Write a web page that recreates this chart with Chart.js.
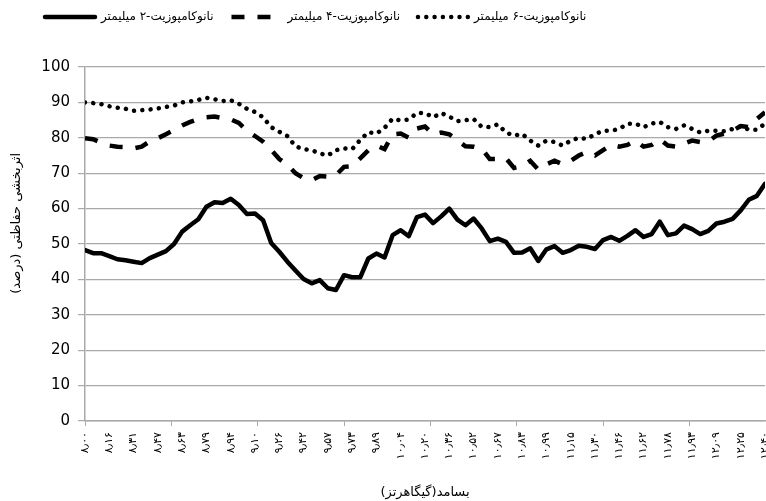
<!DOCTYPE html>
<html lang="fa">
<head>
<meta charset="utf-8">
<title>اثربخشی حفاظتی</title>
<script src="https://cdn.jsdelivr.net/npm/chart.js@4.4.1/dist/chart.umd.min.js"></script>
<style>
  html, body { margin: 0; padding: 0; background: #fff; }
  .wrap { position: relative; width: 766px; height: 501px; }
  canvas { direction: rtl; }
</style>
</head>
<body>
<div class="wrap"><canvas id="seChart"></canvas></div>
<script>
// tick labels of the category axis (GHz, Persian digits)
const freqLabels = ['۸٫۰۰', '۸٫۱۶', '۸٫۳۱', '۸٫۴۷', '۸٫۶۳', '۸٫۷۹', '۸٫۹۴', '۹٫۱۰', '۹٫۲۶', '۹٫۴۲',
  '۹٫۵۷', '۹٫۷۳', '۹٫۸۹', '۱۰٫۰۴', '۱۰٫۲۰', '۱۰٫۳۶', '۱۰٫۵۲', '۱۰٫۶۷', '۱۰٫۸۳', '۱۰٫۹۹',
  '۱۱٫۱۵', '۱۱٫۳۰', '۱۱٫۴۶', '۱۱٫۶۲', '۱۱٫۷۸', '۱۱٫۹۳', '۱۲٫۰۹', '۱۲٫۲۵', '۱۲٫۴۰'];

const seriesNames = ['نانوکامپوزیت-۲ میلیمتر', 'نانوکامپوزیت-۴ میلیمتر', 'نانوکامپوزیت-۶ میلیمتر'];

// values read every 3rd frequency point (0 .. 252)
const se2mm = [48.3, 47.4, 47.4, 46.6, 45.7, 45.4, 45.0, 44.6, 46.0, 47.0,
  48.0, 50.0, 53.5, 55.3, 57.0, 60.5, 61.8, 61.6, 62.8, 61.0,
  58.5, 58.6, 56.7, 50.3, 47.8, 45.0, 42.5, 40.1, 38.9, 39.8,
  37.5, 37.0, 41.2, 40.6, 40.6, 45.9, 47.3, 46.2, 52.5, 53.9,
  52.2, 57.6, 58.3, 55.9, 57.8, 60.0, 56.9, 55.3, 57.2, 54.4,
  50.8, 51.5, 50.6, 47.5, 47.6, 48.8, 45.2, 48.5, 49.4, 47.5,
  48.3, 49.5, 49.2, 48.6, 51.1, 52.0, 50.9, 52.3, 53.9, 52.0,
  52.8, 56.3, 52.5, 53.0, 55.2, 54.2, 52.8, 53.7, 55.8, 56.3,
  57.1, 59.5, 62.5, 63.6, 67.0];

const se4mm = [79.9, 79.6, 78.6, 77.8, 77.5, 77.4, 77.0, 77.5, 79.0, 79.9,
  81.0, 82.2, 83.5, 84.5, 85.3, 85.8, 86.0, 85.6, 85.2, 84.2,
  82.0, 80.5, 78.9, 76.6, 74.0, 72.4, 70.0, 68.6, 68.0, 69.2,
  69.0, 69.5, 71.8, 72.0, 74.2, 76.5, 77.8, 76.8, 81.0, 81.2,
  80.0, 82.6, 83.2, 81.0, 81.5, 81.0, 79.3, 77.6, 77.5, 77.0,
  74.0, 74.0, 74.2, 71.5, 72.0, 73.5, 71.0, 72.5, 73.5, 72.5,
  73.5, 75.0, 76.0, 75.0, 76.5, 78.0, 77.5, 78.0, 79.2, 77.5,
  78.0, 79.6, 77.8, 77.5, 78.4, 79.2, 78.8, 79.0, 80.6, 81.2,
  82.0, 83.3, 83.0, 85.3, 87.2];

const se6mm = [90.0, 89.8, 89.5, 88.9, 88.5, 88.2, 87.6, 87.8, 88.0, 88.3,
  88.7, 89.1, 90.0, 90.3, 90.7, 91.3, 90.9, 90.4, 90.6, 89.6,
  88.2, 87.3, 85.8, 83.0, 81.7, 80.5, 77.6, 76.8, 76.5, 75.6,
  75.0, 76.5, 77.0, 76.8, 79.4, 81.6, 81.2, 82.8, 85.4, 84.9,
  85.2, 87.0, 87.0, 85.8, 87.0, 86.0, 84.7, 85.0, 85.3, 83.1,
  83.0, 83.8, 81.5, 80.6, 81.1, 79.2, 77.8, 79.2, 78.8, 77.8,
  79.2, 80.0, 79.7, 81.0, 82.0, 82.0, 82.5, 84.0, 84.0, 83.0,
  84.0, 84.5, 83.0, 82.5, 83.5, 82.5, 81.5, 82.0, 82.0, 81.8,
  82.5, 83.3, 82.3, 82.3, 84.0];

// trailing no-break spaces push the rotated title a bit up, as in the original
const yTitle = 'اثربخشی حفاظتی (درصد)' + '\u00A0'.repeat(10);
const xTitle = 'بسامد(گیگاهرتز)';

const gridGray = '#a9a9a9';
const persianFont = 'DejaVu Sans';

// every 9th point gets a label, every 32nd point a tick mark
const tickValues = [];
for (let v = 0; v <= 252; v++) {
  if (v % 9 === 0 || v % 32 === 0) tickValues.push(v);
}

const toPoints = arr => arr.map((y, i) => ({ x: i * 3, y }));

// move the legend to the top left corner, like the original
const legendPlace = {
  id: 'legendPlace',
  afterLayout(chart) {
    chart.legend.left = 27;
    chart.legend.top = -7;
  }
};

const ctx = document.getElementById('seChart').getContext('2d');
new Chart(ctx, {
  type: 'line',
  data: {
    datasets: [
      { label: seriesNames[0], data: toPoints(se2mm), borderColor: '#000', borderWidth: 4.5,
        borderJoinStyle: 'round', borderCapStyle: 'round' },
      { label: seriesNames[1], data: toPoints(se4mm), borderColor: '#000', borderWidth: 4.5,
        borderDash: [13, 13], borderCapStyle: 'butt' },
      { label: seriesNames[2], data: toPoints(se6mm), borderColor: '#000', borderWidth: 4.5,
        borderDash: [0.01, 8.3], borderCapStyle: 'round' }
    ]
  },
  options: {
    responsive: true,
    maintainAspectRatio: false,
    animation: false,
    layout: { padding: { top: 27, right: 1, left: 0, bottom: 0 } },
    elements: { point: { radius: 0, hoverRadius: 0 }, line: { tension: 0 } },
    plugins: {
      tooltip: { enabled: false },
      legend: {
        position: 'top',
        align: 'start',
        labels: {
          usePointStyle: true,
          pointStyleWidth: 50,
          padding: 18,
          color: '#000',
          font: { family: persianFont, size: 12 },
          generateLabels: chart => chart.data.datasets.map((ds, i) => ({
            text: ds.label,
            strokeStyle: ds.borderColor,
            fillStyle: ds.borderColor,
            lineWidth: ds.borderWidth,
            lineDash: ds.borderDash || [],
            lineCap: ds.borderCapStyle,
            pointStyle: 'line',
            datasetIndex: i,
            hidden: false
          }))
        }
      }
    },
    scales: {
      x: {
        type: 'linear',
        min: 0,
        max: 252,
        afterBuildTicks: s => { s.ticks = tickValues.map(v => ({ value: v })); },
        afterFit: s => { s.height = 80; s.paddingLeft = 0; s.paddingRight = 0; },
        grid: {
          drawOnChartArea: false,
          tickLength: 5,
          color: c => (c.tick && c.tick.value % 32 === 0) ? gridGray : 'rgba(0,0,0,0)'
        },
        border: { color: gridGray, width: 1.5 },
        ticks: {
          autoSkip: false,
          minRotation: 90,
          maxRotation: 90,
          padding: 6,
          color: '#000',
          font: { family: persianFont, size: 11 },
          callback: v => (v % 9 === 0 ? freqLabels[v / 9] : '')
        },
        title: {
          display: true,
          text: xTitle,
          color: '#000',
          font: { family: persianFont, size: 13 },
          padding: { top: 0, bottom: 1 }
        }
      },
      y: {
        min: 0,
        max: 100,
        afterFit: s => { s.width = 85; },
        grid: { color: gridGray, tickLength: 7, lineWidth: 1.2 },
        border: { color: gridGray, width: 1.5 },
        ticks: {
          stepSize: 10,
          padding: 8,
          color: '#000',
          font: { family: persianFont, size: 15 }
        },
        title: {
          display: true,
          text: yTitle,
          color: '#000',
          font: { family: persianFont, size: 13 },
          padding: { top: 9, bottom: 0 }
        }
      }
    }
  },
  plugins: [legendPlace]
});
</script>
</body>
</html>
